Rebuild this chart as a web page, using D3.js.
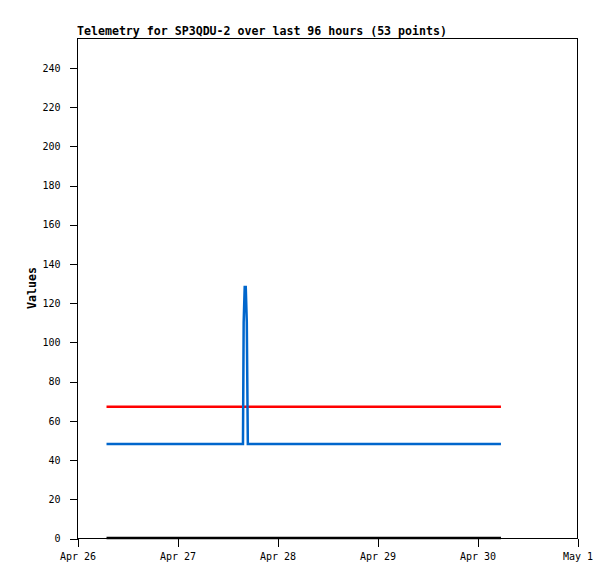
<!DOCTYPE html>
<html>
<head>
<meta charset="utf-8">
<script src="https://cdn.jsdelivr.net/npm/d3@7"></script>
<style>
  body { margin: 0; background: #fff; }
  text { font-family: "DejaVu Sans Mono", "Liberation Mono", monospace; fill: #000; }
</style>
</head>
<body>
<div id="chart"></div>
<script>
// Telemetry series (times are local, year assumed)
const blueTimes = ["2024-04-26T07:05", "2024-04-27T15:50", "2024-04-27T16:00", "2024-04-27T16:15",
                   "2024-04-27T16:30", "2024-04-27T16:45", "2024-04-27T17:00", "2024-04-30T05:45"];
const blueValues = [48, 48, 110, 128, 128, 110, 48, 48];

const redTimes = ["2024-04-26T07:05", "2024-04-30T05:45"];
const redValues = [67, 67];

const blackTimes = ["2024-04-26T07:05", "2024-04-30T05:45"];
const blackValues = [0, 0];

const yTicks = [0, 20, 40, 60, 80, 100, 120, 140, 160, 180, 200, 220, 240];
const xDomain = ["2024-04-26T00:00", "2024-05-01T00:00"];

const titleText = "Telemetry for SP3QDU-2 over last 96 hours (53 points)";

const W = 615, H = 579;
const margin = { top: 38, right: 38, bottom: 41, left: 77 };
const width = W - margin.left - margin.right;   // 500
const height = H - margin.top - margin.bottom;  // 500

const parse = d3.timeParse("%Y-%m-%dT%H:%M");

const svg = d3.select("#chart").append("svg")
    .attr("width", W)
    .attr("height", H);

svg.append("rect").attr("width", W).attr("height", H).attr("fill", "#fff");

const g = svg.append("g")
    .attr("transform", `translate(${margin.left},${margin.top})`);

const x = d3.scaleTime()
    .domain(xDomain.map(parse))
    .range([0, width]);

const y = d3.scaleLinear()
    .domain([0, 255])
    .range([height, 0]);

// series
const series = [
    { times: blackTimes, values: blackValues, color: "#000000" },
    { times: redTimes, values: redValues, color: "#ff0000" },
    { times: blueTimes, values: blueValues, color: "#0066cc" }
];

const line = d3.line()
    .x(d => x(d.t))
    .y(d => y(d.v));

series.forEach(s => {
    const pts = s.times.map((t, i) => ({ t: parse(t), v: s.values[i] }));
    g.append("path")
        .datum(pts)
        .attr("fill", "none")
        .attr("stroke", s.color)
        .attr("stroke-width", 2.5)
        .attr("stroke-linejoin", "miter")
        .attr("d", line);
});

// frame
g.append("rect")
    .attr("x", 0.5).attr("y", 0.5)
    .attr("width", width).attr("height", height)
    .attr("fill", "none")
    .attr("stroke", "#000")
    .attr("stroke-width", 1)
    .attr("shape-rendering", "crispEdges");

// axes
const xAxis = g.append("g")
    .attr("transform", `translate(0.5,${height + 0.5})`)
    .call(d3.axisBottom(x)
        .ticks(d3.timeDay.every(1))
        .tickFormat(d3.timeFormat("%b %-d"))
        .tickSize(8)
        .tickPadding(6));

const yAxis = g.append("g")
    .attr("transform", "translate(0.5,0.5)")
    .call(d3.axisLeft(y)
        .tickValues(yTicks)
        .tickSize(8)
        .tickPadding(9));

[xAxis, yAxis].forEach(a => {
    a.select(".domain").remove();
    a.selectAll(".tick line").attr("stroke", "#000").attr("shape-rendering", "crispEdges");
    a.selectAll(".tick text")
        .style("font-family", "'DejaVu Sans Mono', monospace")
        .style("font-size", "10px")
        .attr("fill", "#000");
});

// title
svg.append("text")
    .attr("x", margin.left)
    .attr("y", 35)
    .style("font-size", "11.6px")
    .style("font-weight", "bold")
    .text(titleText);

// y label
svg.append("text")
    .attr("transform", `translate(36,${margin.top + height / 2}) rotate(-90)`)
    .attr("text-anchor", "middle")
    .style("font-size", "11.6px")
    .style("font-weight", "bold")
    .text("Values");
</script>
</body>
</html>
